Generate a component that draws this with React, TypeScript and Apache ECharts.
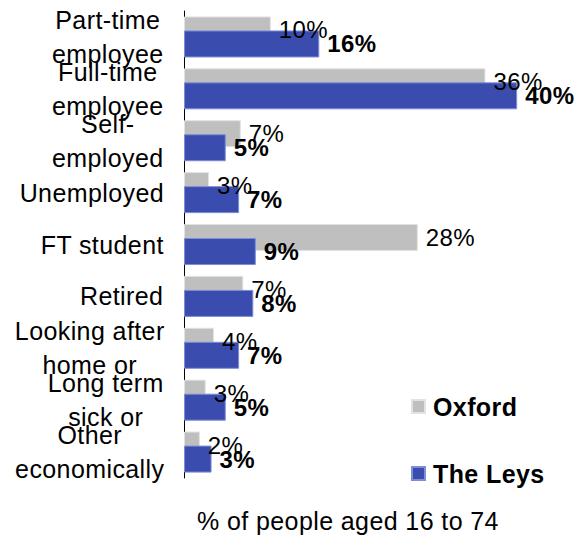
import React, { useEffect, useRef } from "react";
import * as echarts from "echarts";

const categories = [
  "Part-time\nemployee",
  "Full-time\nemployee",
  "Self-\nemployed",
  "Unemployed",
  "FT student",
  "Retired",
  "Looking after\nhome or",
  "Long term\nsick or",
  "Other\neconomically",
];
const oxford = [10.4, 36.1, 6.8, 3.0, 28.0, 7.1, 3.6, 2.6, 1.9];
const theLeys = [16.2, 39.9, 5.0, 6.6, 8.6, 8.3, 6.6, 5.0, 3.3];
const seriesNames = ["Oxford", "The Leys"];
const axisTitle = "% of people aged 16 to 74";

const FONT = "'Liberation Sans', Arial, sans-serif";

export default function App() {
  const ref = useRef<HTMLDivElement>(null);
  useEffect(() => {
    if (!ref.current) return;
    const chart = echarts.init(ref.current, null, { renderer: "svg" });
    chart.setOption({
      animation: false,
      backgroundColor: "#ffffff",
      textStyle: { fontFamily: FONT },
      title: {
        text: axisTitle,
        left: 197,
        top: 508,
        padding: 0,
        textStyle: { fontSize: 25, fontWeight: "normal", color: "#000", fontFamily: FONT },
      },
      legend: {
        data: seriesNames,
        orient: "vertical",
        left: 411,
        top: 394,
        padding: 0,
        itemWidth: 13,
        itemHeight: 13,
        itemGap: 42,
        icon: "rect",
        textStyle: { fontSize: 25, fontWeight: "bold", color: "#000", fontFamily: FONT, padding: [0, 0, 0, 3] },
      },
      grid: { left: 184, right: 19.25, top: 11, height: 467, containLabel: false },
      xAxis: {
        type: "value",
        min: 0,
        max: 45,
        show: false,
        splitLine: { show: false },
      },
      yAxis: {
        type: "category",
        data: categories,
        inverse: true,
        axisLine: { show: true, lineStyle: { color: "#000", width: 1 } },
        axisTick: { show: false },
        axisLabel: {
          interval: 0,
          margin: 22,
          fontSize: 25,
          color: "#000",
          fontFamily: FONT,
          formatter: (v: string) => v.split("\n").map((l) => `{c|${l}}`).join("\n"),
          rich: {
            c: { align: "center", fontSize: 25, lineHeight: 34, color: "#000", fontFamily: FONT },
          },
        },
      },
      series: [
        {
          name: seriesNames[0],
          type: "bar",
          data: oxford,
          barWidth: 27,
          barGap: "-48%",
          itemStyle: { color: "#BFBFBF", borderColor: "#E2E2E2", borderWidth: 1 },
          label: {
            show: true,
            position: "right",
            distance: 8,
            fontSize: 24,
            color: "#000",
            fontFamily: FONT,
            formatter: (p: any) => `${Math.round(p.value)}%`,
          },
        },
        {
          name: seriesNames[1],
          type: "bar",
          data: theLeys,
          barWidth: 27,
          itemStyle: { color: "#3A4DAE", borderColor: "#7D8DD6", borderWidth: 1 },
          label: {
            show: true,
            position: "right",
            distance: 8,
            fontSize: 24,
            fontWeight: "bold",
            color: "#000",
            fontFamily: FONT,
            formatter: (p: any) => `${Math.round(p.value)}%`,
          },
        },
      ],
    });
    return () => chart.dispose();
  }, []);
  return (
    <div
      ref={ref}
      style={{
        position: "fixed",
        left: 0,
        top: 0,
        width: 579,
        height: 536,
        background: "#fff",
        letterSpacing: "0.4px",
      }}
    />
  );
}
